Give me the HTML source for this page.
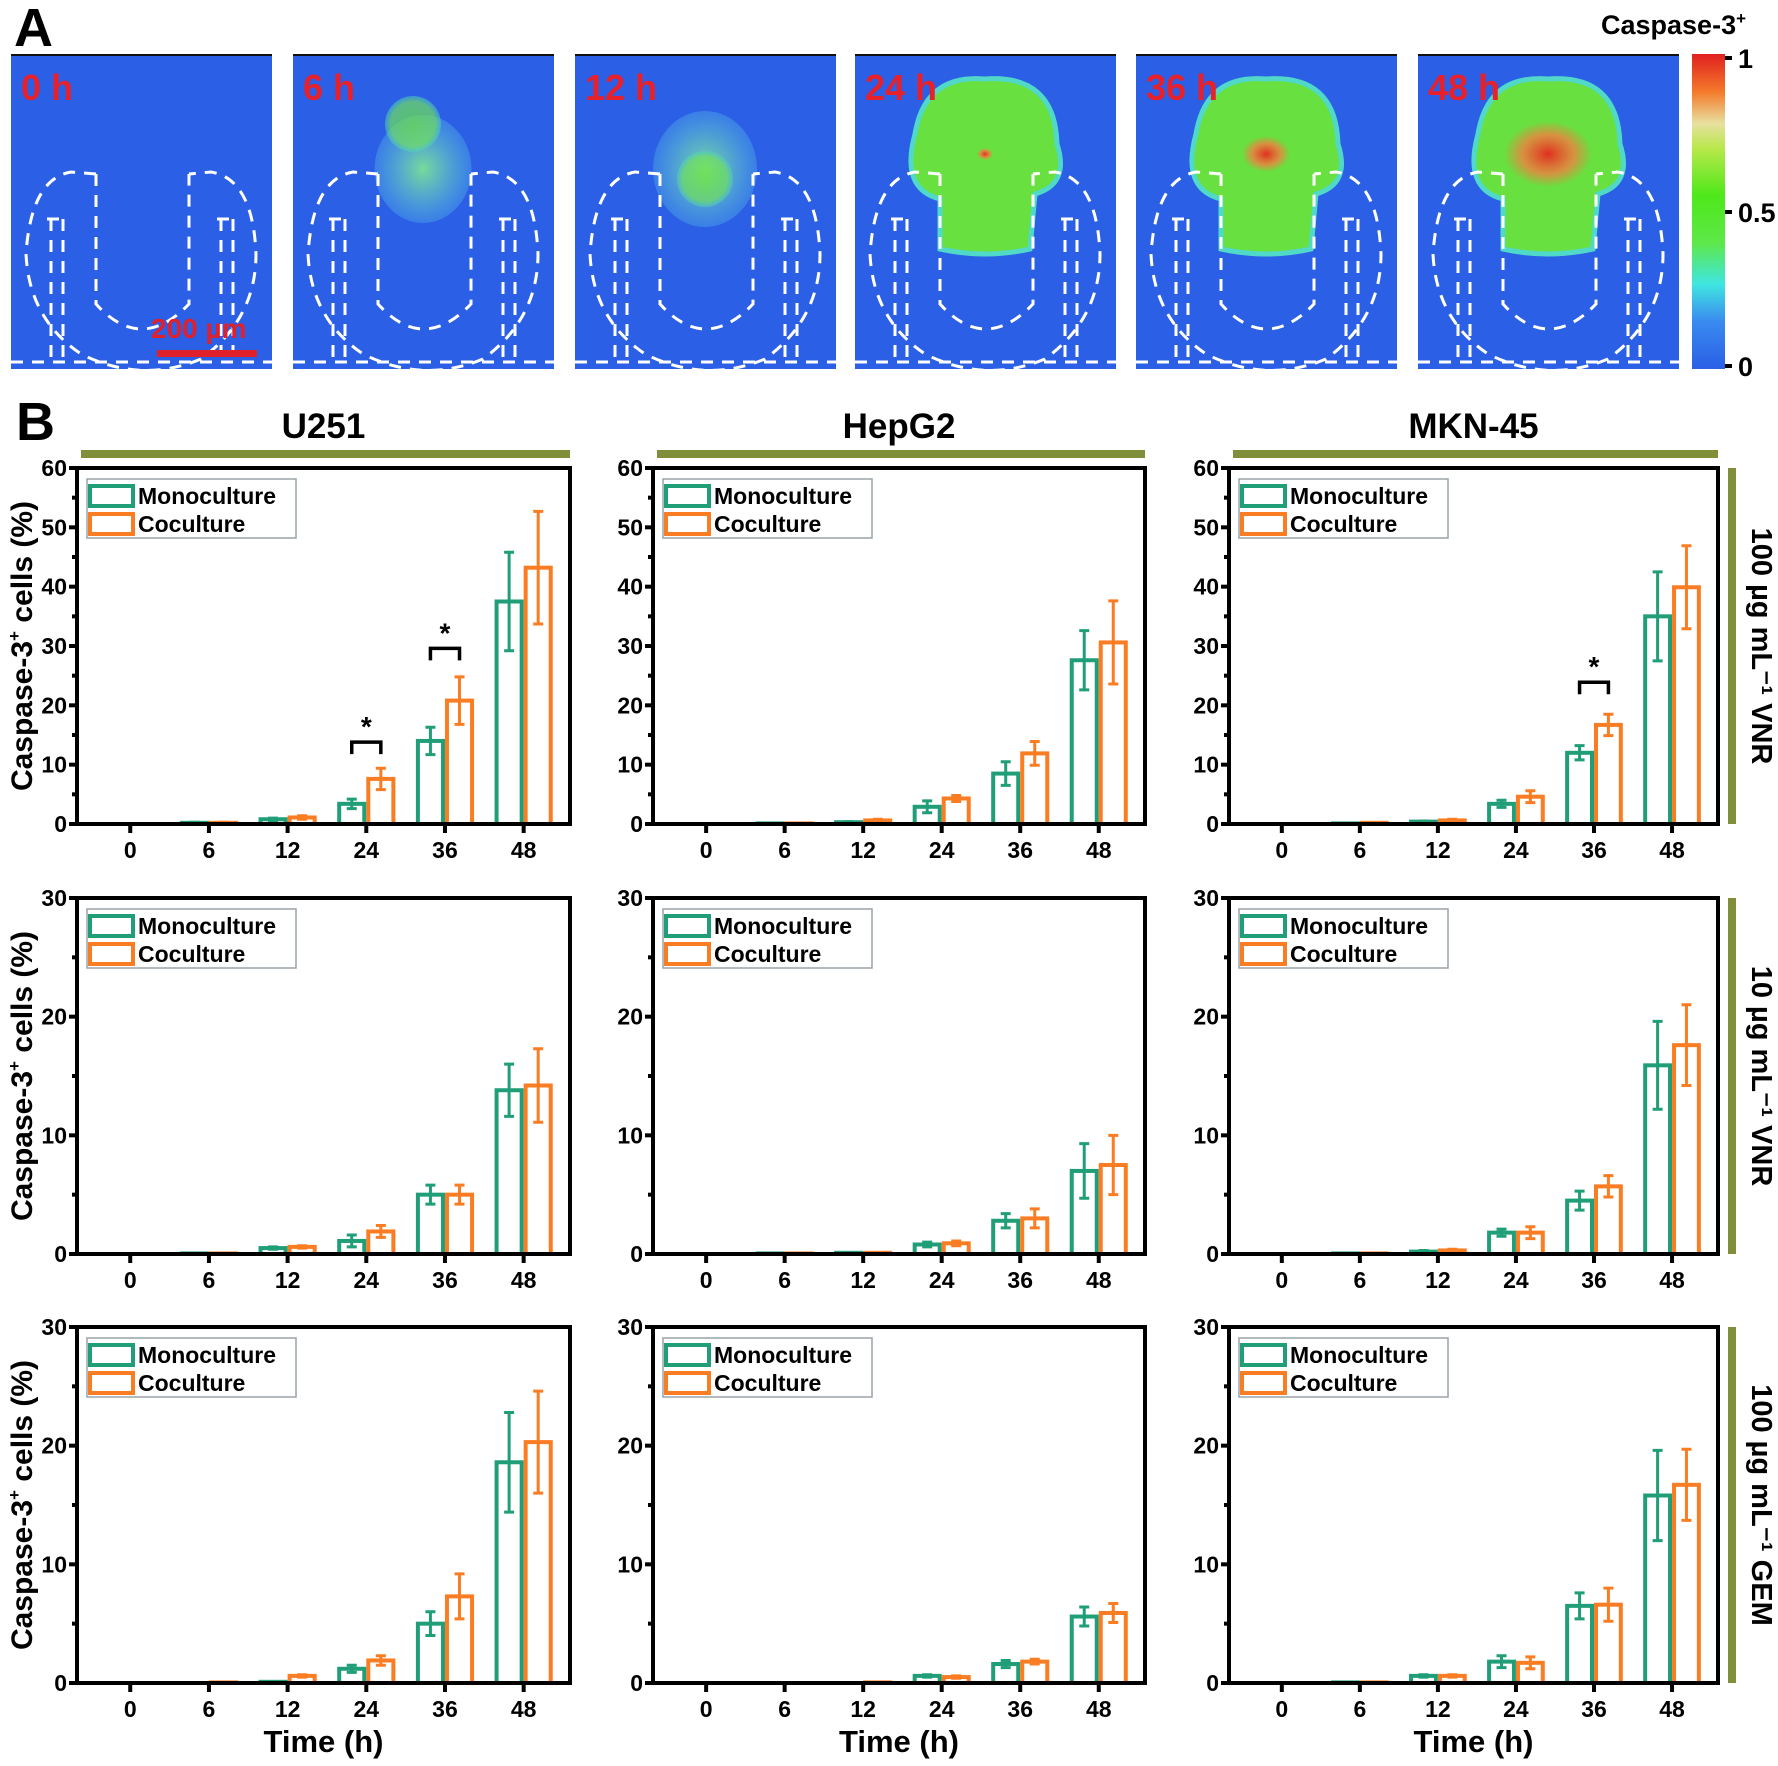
<!DOCTYPE html>
<html><head><meta charset="utf-8">
<style>
html,body{margin:0;padding:0;background:#fff;}
svg{display:block;font-family:"Liberation Sans",Arial,sans-serif;font-weight:bold;}
</style></head>
<body>
<svg id="fig" width="1778" height="1766" viewBox="0 0 1778 1766" xmlns="http://www.w3.org/2000/svg">
<defs>
<linearGradient id="cbar" x1="0" y1="1" x2="0" y2="0">
<stop offset="0" stop-color="#2a5fe6"/><stop offset="0.15" stop-color="#3a8af0"/><stop offset="0.27" stop-color="#3fe6e0"/>
<stop offset="0.4" stop-color="#5ee84a"/><stop offset="0.55" stop-color="#4ee81a"/><stop offset="0.7" stop-color="#b8e84a"/>
<stop offset="0.78" stop-color="#e8e0a0"/><stop offset="0.88" stop-color="#f47a2a"/><stop offset="1" stop-color="#e02020"/>
</linearGradient>
<radialGradient id="blobG"><stop offset="0" stop-color="#6ee83a"/><stop offset="0.8" stop-color="#70e060"/><stop offset="1" stop-color="#50d0c0" stop-opacity="0.7"/></radialGradient>
<radialGradient id="blobC"><stop offset="0" stop-color="#80e890" stop-opacity="0.9"/><stop offset="1" stop-color="#60c8e8" stop-opacity="0.3"/></radialGradient>
<radialGradient id="blobR"><stop offset="0" stop-color="#e03020"/><stop offset="0.6" stop-color="#f08040" stop-opacity="0.8"/><stop offset="1" stop-color="#f08040" stop-opacity="0"/></radialGradient>
</defs>
<g id="panelA"></g>
<g id="panelB"></g>
</svg>
<script>
const NS="http://www.w3.org/2000/svg";
function mk(parent,tag,attrs,text){const e=document.createElementNS(NS,tag);for(const k in attrs)e.setAttribute(k,attrs[k]);if(text!==undefined)e.textContent=text;parent.appendChild(e);return e;}

// ---------- Panel A ----------
const timeLabelsA=["0 h","6 h","12 h","24 h","36 h","48 h"];
const blobSizeA=[0,0.55,0.6,0.9,0.95,0.85];
const redAmountA=[0,0,0,0.1,0.3,0.55];
const tileX=[11,293,575,855,1136,1418];
const A=document.getElementById('panelA');
const lblA=mk(A,'text',{x:14,y:46,'font-size':54,fill:'#000'},'A');


timeLabelsA.forEach((t,i)=>{
  const g=mk(A,'g',{transform:`translate(${tileX[i]},54)`});
  
  
  mk(g,'rect',{x:0,y:0,width:261,height:315,fill:'#2a5fe6'});
  mk(g,'rect',{x:0,y:0,width:261,height:2,fill:'#111'});
  const s=blobSizeA[i];
  if(s>0){
    const cx=130, cy=i<3?115:100;
    if(i<3){
      mk(g,'ellipse',{cx:cx,cy:cy,rx:70*s+10,ry:80*s+10,fill:'url(#blobC)'});
      mk(g,'ellipse',{cx:cx+(i==1?-10:0),cy:cy-(i==1?45:-10),rx:28,ry:28,fill:'url(#blobG)',opacity:0.7});
    } else {
      mk(g,'path',{d:`M${cx-70} ${cy-20} Q${cx-60} ${cy-80} ${cx} ${cy-75} Q${cx+70} ${cy-80} ${cx+72} ${cy-10} Q${cx+85} ${cy+30} ${cx+50} ${cy+40} L${cx+45} ${cy+95} Q${cx} ${cy+105} ${cx-45} ${cy+95} L${cx-45} ${cy+45} Q${cx-85} ${cy+35} ${cx-70} ${cy-20}Z`,fill:'#68e040',stroke:'#50d8c8','stroke-width':5});
      if(redAmountA[i]>0) mk(g,'ellipse',{cx:cx,cy:cy,rx:80*redAmountA[i],ry:60*redAmountA[i],fill:'url(#blobR)'});
    }
  }
  const dash={fill:'none',stroke:'#fff','stroke-width':3,'stroke-dasharray':'12 9'};
  mk(g,'path',Object.assign({d:'M85 120 L60 118 Q20 125 15 200 Q18 265 70 300 Q130 330 190 305 Q245 265 245 200 Q242 125 200 118 L178 120'},dash));
  mk(g,'path',Object.assign({d:'M85 120 L85 250 Q130 300 178 250 L178 120'},dash));
  mk(g,'path',Object.assign({d:'M40 165 L40 305 M52 165 L52 305 M210 165 L210 305 M222 165 L222 305 M36 165 L56 165 M206 165 L226 165'},dash));
  mk(g,'path',Object.assign({d:'M0 308 L261 308'},dash));
  const tl=mk(g,'text',{x:10,y:46,'font-size':36,fill:'#e8202a'},t);
  
  
  if(i==0){
    mk(g,'rect',{x:146,y:296,width:100,height:7,fill:'#e0202a'});
    const sb=mk(g,'text',{x:140,y:284,'font-size':28,fill:'#e0202a'},'200 µm');
    
    
  }
});
const cb=mk(A,'rect',{x:1692,y:54,width:33,height:315,fill:'url(#cbar)'});


const cbTitle=mk(A,'text',{x:1601,y:34,'font-size':27,fill:'#000'});


mk(cbTitle,'tspan',{},'Caspase-3');
mk(cbTitle,'tspan',{dy:-10,'font-size':17},'+');
const cbTicks=["1","0.5","0"];
cbTicks.forEach((t,i)=>{
  const y=58+i*154;
  mk(A,'rect',{x:1725,y:y-2,width:7,height:4,fill:'#000'});
  const tt=mk(A,'text',{x:1738,y:y+10,'font-size':27,fill:'#000'},t);
  
  
});

// ---------- Panel B data ----------
const categories=["0","6","12","24","36","48"];
const cellLines=["U251","HepG2","MKN-45"];
const treatments=["100 µg mL⁻¹ VNR","10 µg mL⁻¹ VNR","100 µg mL⁻¹ GEM"];
const yMax=[60,30,30];
const yTicks60=[0,10,20,30,40,50,60];
const yTicks30=[0,10,20,30];
const monoVals=[
 [[0,0.2,0.8,3.4,14,37.5],[0,0.1,0.3,2.9,8.5,27.6],[0,0.1,0.4,3.4,12,35]],
 [[0,0.05,0.5,1.1,5,13.8],[0,0.05,0.1,0.8,2.8,7],[0,0.05,0.2,1.8,4.5,15.9]],
 [[0,0,0.1,1.2,5,18.6],[0,0,0,0.6,1.6,5.6],[0,0.05,0.6,1.8,6.5,15.8]]];
const monoErr=[
 [[0,0.1,0.2,0.8,2.3,8.3],[0,0,0.1,1,2,5],[0,0,0.1,0.6,1.2,7.5]],
 [[0,0,0.1,0.5,0.8,2.2],[0,0,0,0.2,0.6,2.3],[0,0,0.1,0.3,0.8,3.7]],
 [[0,0,0,0.3,1,4.2],[0,0,0,0.1,0.3,0.8],[0,0,0.1,0.5,1.1,3.8]]];
const coVals=[
 [[0,0.2,1.1,7.6,20.8,43.2],[0,0.1,0.6,4.3,11.9,30.6],[0,0.2,0.6,4.6,16.7,39.9]],
 [[0,0.05,0.6,1.9,5,14.2],[0,0.05,0.1,0.9,3,7.5],[0,0.05,0.3,1.8,5.7,17.6]],
 [[0,0.05,0.6,1.9,7.3,20.3],[0,0,0.05,0.5,1.8,5.9],[0,0.05,0.6,1.7,6.6,16.7]]];
const coErr=[
 [[0,0.1,0.3,1.8,4,9.5],[0,0,0.2,0.5,2,7],[0,0,0.2,1,1.8,7]],
 [[0,0,0.1,0.5,0.8,3.1],[0,0,0,0.2,0.8,2.5],[0,0,0.1,0.5,0.9,3.4]],
 [[0,0,0.1,0.4,1.9,4.3],[0,0,0,0.1,0.2,0.8],[0,0,0.1,0.5,1.4,3]]];
const sigRow=[0,0,0];
const sigCol=[0,0,2];
const sigCat=[3,4,4];
const sigLevel=[13.8,29.6,23.9];

// ---------- layout ----------
const colL=[77,653,1229], colR=[570,1145,1718];
const rowT=[468,898,1327], rowB=[824,1254,1683];
const GREEN='#1f9e78', ORANGE='#fb7d23';
const B=document.getElementById('panelB');
const lblB=mk(B,'text',{x:16,y:440,'font-size':54,fill:'#000'},'B');



cellLines.forEach((c,ci)=>{
  const h=mk(B,'text',{x:(colL[ci]+colR[ci])/2,y:438,'font-size':35,'text-anchor':'middle',fill:'#000'},c);
  
  
  const st=mk(B,'rect',{x:colL[ci]+4,y:450,width:colR[ci]-colL[ci]-4,height:8,fill:'#7f8f3a'});
  
  
});
treatments.forEach((t,ri)=>{
  const st=mk(B,'rect',{x:1728,y:rowT[ri],width:8,height:rowB[ri]-rowT[ri],fill:'#7f8f3a'});
  
  
  const cy=(rowT[ri]+rowB[ri])/2;
  const tx=mk(B,'text',{x:1752,y:cy,'font-size':29,'text-anchor':'middle',fill:'#000',transform:`rotate(90 1752 ${cy})`},t);
  
  
});

for(let ri=0;ri<3;ri++){for(let ci=0;ci<3;ci++){
  const L=colL[ci],R=colR[ci],T=rowT[ri],Bt=rowB[ri],W=R-L;
  const ymax=yMax[ri];
  const yS=v=>Bt-(v/ymax)*(Bt-T);
  const xS=i=>L+W*(0.108+0.1596*i);
  const bw=W*0.059;
  const g=mk(B,'g',{});
  
  
  categories.forEach((cat,i)=>{
    const series=[[monoVals,monoErr,GREEN,-1,'mono'],[coVals,coErr,ORANGE,0,'co']];
    series.forEach(([V,E,col,off,nm])=>{
      const v=V[ri][ci][i], e=E[ri][ci][i];
      const bx=off<0?xS(i)-bw:xS(i);
      const y=yS(v);
      const bar=mk(g,'rect',{x:bx+2,y:y,width:bw-4,height:Math.max(0,Bt-y),fill:'none',stroke:col,'stroke-width':4});
      
      
      if(e>0){
        const cx=bx+bw/2, y1=yS(v+e), y2=yS(v-e);
        const eb=mk(g,'path',{d:`M${cx} ${y1}V${y2}M${cx-5} ${y1}H${cx+5}M${cx-5} ${y2}H${cx+5}`,stroke:col,'stroke-width':3,fill:'none'});
        
        
      }
    });
  });
  const fr=mk(g,'rect',{x:L,y:T,width:W,height:Bt-T,fill:'none',stroke:'#000','stroke-width':4});
  
  
  const ticks=ymax==60?yTicks60:yTicks30;
  ticks.forEach(tv=>{
    const y=yS(tv);
    mk(g,'path',{d:`M${L-8} ${y}H${L}`,stroke:'#000','stroke-width':4});
    const tl=mk(g,'text',{x:L-10,y:y+8,'font-size':23,'text-anchor':'end',fill:'#000'},String(tv));
    
    
    if(tv<ymax){const ym=yS(tv+5);mk(g,'path',{d:`M${L-5} ${ym}H${L}`,stroke:'#000','stroke-width':4});}
  });
  categories.forEach((cat,i)=>{
    const x=xS(i);
    mk(g,'path',{d:`M${x} ${Bt}V${Bt+9}`,stroke:'#000','stroke-width':4});
    const tl=mk(g,'text',{x:x,y:Bt+34,'font-size':23,'text-anchor':'middle',fill:'#000'},cat);
    
    
  });
  const lg=mk(g,'g',{});
  
  
  mk(lg,'rect',{x:L+10,y:T+11,width:209,height:59,fill:'#fff',stroke:'#9aa4a8','stroke-width':1.5});
  mk(lg,'rect',{x:L+13,y:T+18,width:43,height:20,fill:'none',stroke:GREEN,'stroke-width':4});
  mk(lg,'rect',{x:L+13,y:T+46,width:43,height:20,fill:'none',stroke:ORANGE,'stroke-width':4});
  const le1=mk(lg,'text',{x:L+61,y:T+36,'font-size':23,fill:'#000'},'Monoculture');
  
  
  const le2=mk(lg,'text',{x:L+61,y:T+64,'font-size':23,fill:'#000'},'Coculture');
  
  
  if(ci==0){
    const cy=(T+Bt)/2;
    const yt=mk(g,'text',{x:32,y:cy,'font-size':30,'text-anchor':'middle',fill:'#000',transform:`rotate(-90 32 ${cy})`});
    
    
    mk(yt,'tspan',{},'Caspase-3');
    mk(yt,'tspan',{dy:-12,'font-size':17},'+');
    mk(yt,'tspan',{dy:12},' cells (%)');
  }
  if(ri==2){
    const xt=mk(g,'text',{x:(L+R)/2,y:1752,'font-size':31,'text-anchor':'middle',fill:'#000'},'Time (h)');
    
    
  }
}}
sigRow.forEach((r,k)=>{
  const c=sigCol[k], i=sigCat[k];
  const L=colL[c],W=colR[c]-colL[c],T=rowT[r],Bt=rowB[r];
  const yS=v=>Bt-(v/yMax[r])*(Bt-T);
  const x=L+W*(0.108+0.1596*i), bw=W*0.059;
  const y=yS(sigLevel[k]);
  const br=mk(B,'path',{d:`M${x-bw/2} ${y+12}V${y}H${x+bw/2}V${y+12}`,stroke:'#000','stroke-width':3.5,fill:'none'});
  
  
  const s=mk(B,'text',{x:x,y:y-6,'font-size':28,'text-anchor':'middle',fill:'#000'},'*');
  
  
});
</script>
</body></html>
